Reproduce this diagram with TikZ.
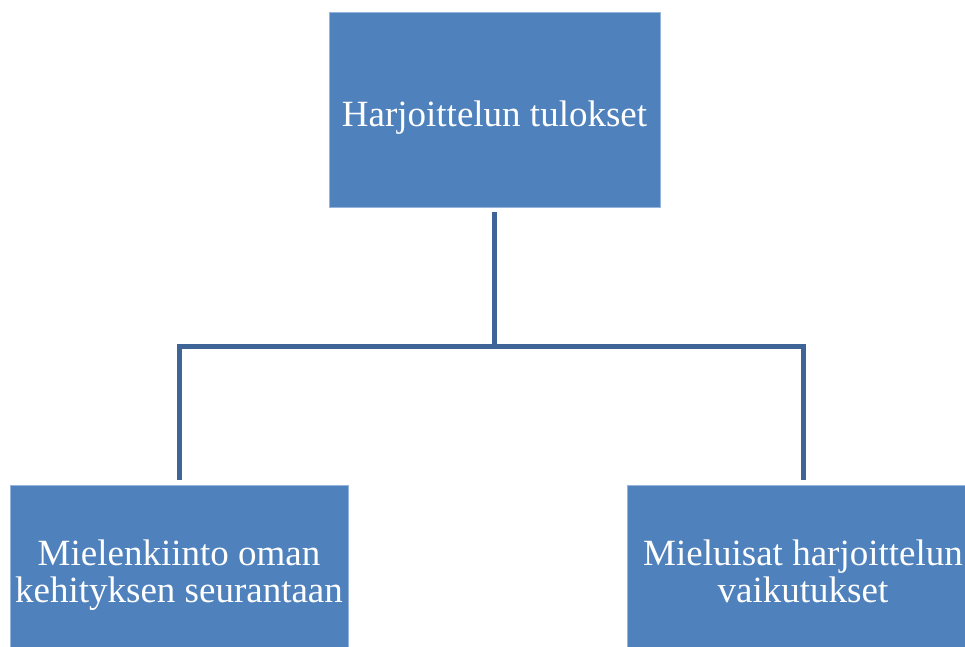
\documentclass[tikz,border=0pt]{standalone}
\usepackage{fontspec}
\setmainfont{Liberation Serif}
\definecolor{boxfill}{RGB}{79,129,189}
\definecolor{boxedge}{RGB}{150,180,220}
\definecolor{linkcol}{RGB}{62,100,152}
\tikzset{
  blockbox/.style={draw=boxedge, line width=0.8pt, fill=boxfill, text=white,
    align=center, inner sep=0pt, font=\fontsize{37}{37}\selectfont},
  linkline/.style={draw=linkcol, line width=5pt, line join=miter,
    shorten <=5pt, shorten >=5pt}
}
\begin{document}
\begin{tikzpicture}[x=1pt,y=-1pt]
  \useasboundingbox (0,0) rectangle (965,646);
  \clip (0,0) rectangle (965,646);
  \fill[white] (0,0) rectangle (965,646);
  % boxes
  \node[blockbox, minimum width=331pt, minimum height=195pt,
        text height=33pt, text depth=0pt] (top) at (494.5,109.5)
    {Harjoittelun tulokset};
  \node[blockbox, minimum width=338pt, minimum height=180pt] (left) at (179,575)
    {Mielenkiinto oman\\kehityksen seurantaan};
  \node[blockbox, minimum width=352pt, minimum height=180pt,
        text depth=8pt] (right) at (803,575)
    {Mieluisat harjoittelun\\vaikutukset};
  % connectors
  \coordinate (bus) at (494.5,346.5);
  \draw[linkline] (top.south) -- (bus) -| (left.north);
  \draw[linkline] (top.south) -- (bus) -| (right.north);
\end{tikzpicture}
\end{document}
